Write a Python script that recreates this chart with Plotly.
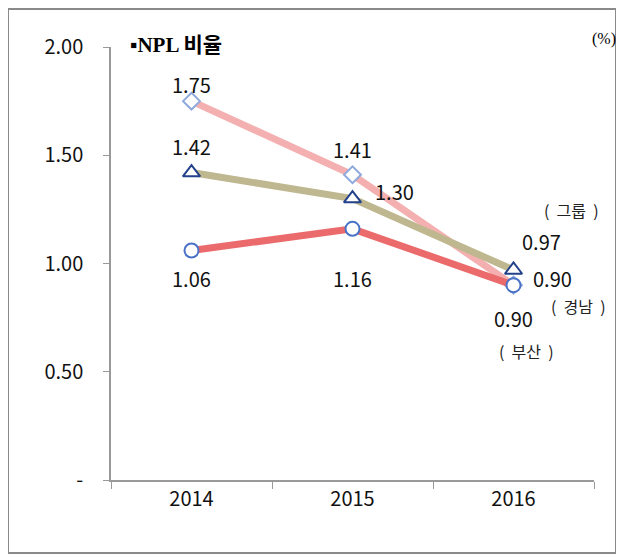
import plotly.graph_objects as go

years = ["2014", "2015", "2016"]
busan = [1.06, 1.16, 0.90]
gyeongnam = [1.75, 1.41, 0.90]
group = [1.42, 1.30, 0.97]
y_ticks = [0, 0.5, 1.0, 1.5, 2.0]
y_tick_labels = ["-", "0.50", "1.00", "1.50", "2.00"]

# the page adds an 8px body margin, so layout is expressed in reference pixels minus 8
OFF = 8
W, H = 616, 547
L, R, T, B = 111 - OFF, 30, 47 - OFF, 75
pw, ph = W - L - R, H - T - B

def px(x):
    return (x - OFF - L) / pw

def py(y):
    return (H - B - (y - OFF)) / ph

FONT = "Noto Sans CJK KR"
fig = go.Figure()

fig.add_trace(go.Scatter(x=years, y=gyeongnam, mode="lines+markers",
                         line=dict(color="#F4B0B0", width=7),
                         marker=dict(symbol="diamond", size=13, color="white",
                                     line=dict(color="#8FA9DC", width=2)),
                         name="경남"))
fig.add_trace(go.Scatter(x=years, y=group, mode="lines+markers",
                         line=dict(color="#BEB78F", width=7),
                         marker=dict(symbol="triangle-up", size=15, color="white",
                                     line=dict(color="#23418A", width=2)),
                         name="그룹"))
fig.add_trace(go.Scatter(x=years, y=busan, mode="lines+markers",
                         line=dict(color="#EB6B6C", width=7),
                         marker=dict(symbol="circle", size=14, color="white",
                                     line=dict(color="#4A73C7", width=2)),
                         name="부산"))

lab_font = dict(family=FONT, size=20, color="#111")
annots = []
# data label offsets in pixels (x right, y up)
offsets = {
    "gyeongnam": [(0, 17), (0, 25), (39, 7)],
    "group": [(0, 26), (42, 7), (28, 29)],
    "busan": [(0, -28), (0, -50), (0, -33)],
}
for key, vals in (("gyeongnam", gyeongnam), ("group", group), ("busan", busan)):
    for i, v in enumerate(vals):
        dx, dy = offsets[key][i]
        annots.append(dict(x=i, y=v, xref="x", yref="y", text=f"{v:.2f}",
                           xanchor="center", yanchor="middle",
                           showarrow=False, xshift=dx, yshift=dy, font=lab_font))

ser_font = dict(family=FONT, size=16, color="#222")
for txt, cx, cy in (("(  그룹  )", 571, 210), ("(  경남  )", 578, 306), ("(  부산  )", 526, 351)):
    annots.append(dict(x=px(cx), y=py(cy), xref="paper", yref="paper", text=txt,
                       xanchor="center", yanchor="middle", showarrow=False, font=ser_font))
annots.append(dict(x=px(128), y=py(31), xref="paper", yref="paper", xanchor="left",
                   text="<b>▪NPL 비율</b>", showarrow=False,
                   font=dict(family="Liberation Serif, Noto Sans CJK KR", size=21, color="#000")))
annots.append(dict(x=px(618), y=py(28), xref="paper", yref="paper", xanchor="right",
                   text="(%)", showarrow=False,
                   font=dict(family="Liberation Serif", size=16, color="#000")))

fig.update_layout(
    width=W, height=H,
    margin=dict(l=L, r=R, t=T, b=B),
    paper_bgcolor="white", plot_bgcolor="white",
    showlegend=False,
    annotations=annots,
    shapes=[dict(type="rect", xref="paper", yref="paper",
                 x0=px(8), x1=px(616), y0=py(553), y1=py(9),
                 line=dict(color="#8A8A8A", width=2), layer="below")],
    xaxis=dict(type="category", tickson="boundaries", ticks="outside", ticklen=7,
               tickcolor="#999", showline=True, linecolor="#999", linewidth=1.5,
               showgrid=False, tickfont=dict(family=FONT, size=20, color="#111"),
               range=[-0.5, 2.5]),
    yaxis=dict(range=[0, 2], tickvals=y_ticks, ticktext=y_tick_labels,
               ticks="outside", ticklen=6, tickcolor="#999", showline=True,
               linecolor="#999", linewidth=1.5, showgrid=False, zeroline=False,
               tickfont=dict(family=FONT, size=20, color="#111"), ticklabelstandoff=16),
)

fig.write_html("out.html")
